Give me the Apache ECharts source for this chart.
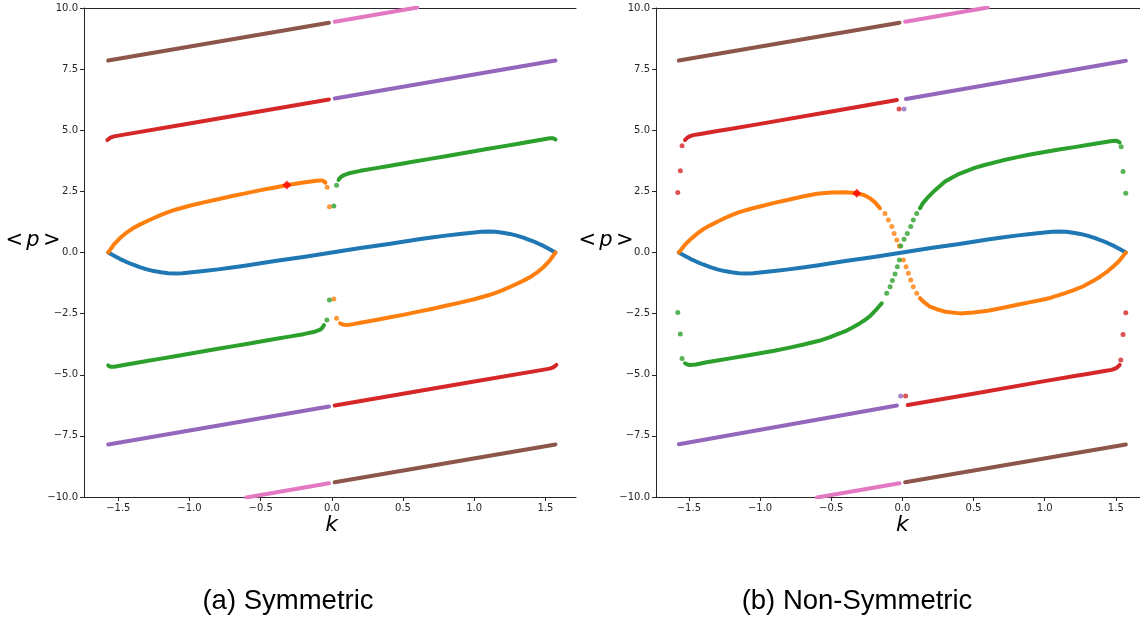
<!DOCTYPE html>
<html>
<head>
<meta charset="utf-8">
<script src="https://cdn.jsdelivr.net/npm/echarts@6/dist/echarts.min.js"></script>
<style>
  html, body { margin: 0; padding: 0; background: #ffffff; }
  #chart { width: 1140px; height: 621px; }
</style>
</head>
<body>
<div id="chart"></div>
<script>
// Tick positions and captions
const xTicks = [-1.5, -1.0, -0.5, 0.0, 0.5, 1.0, 1.5];
const yTicks = [-10, -7.5, -5, -2.5, 0, 2.5, 5, 7.5, 10];
const panelCaptions = ['(a) Symmetric', '(b) Non-Symmetric'];

// Lowest band, identical in both panels  [k, <p>]
const bandBlue = [
  [-1.571, 0.00], [-1.53, -0.13], [-1.49, -0.26], [-1.445, -0.38], [-1.40, -0.49], [-1.35, -0.60],
  [-1.30, -0.69], [-1.25, -0.76], [-1.20, -0.81], [-1.15, -0.85], [-1.10, -0.86], [-1.05, -0.85],
  [-1.00, -0.82], [-0.90, -0.76], [-0.80, -0.69], [-0.70, -0.61], [-0.60, -0.53], [-0.50, -0.44],
  [-0.40, -0.35], [-0.30, -0.27], [-0.20, -0.18], [-0.10, -0.09], [0.00, 0.00], [0.10, 0.09],
  [0.20, 0.18], [0.30, 0.27], [0.40, 0.35], [0.50, 0.44], [0.60, 0.53], [0.70, 0.61], [0.80, 0.69],
  [0.90, 0.76], [1.00, 0.82], [1.05, 0.85], [1.10, 0.86], [1.15, 0.85], [1.20, 0.81], [1.25, 0.76],
  [1.30, 0.69], [1.35, 0.60], [1.40, 0.49], [1.445, 0.38], [1.49, 0.26], [1.53, 0.13], [1.571, 0.00]
];

// Straight bands shared by both panels
const brownTop = [[-1.571, 7.85], [-0.02, 9.40]];
const pinkTop = [[0.02, 9.44], [0.60, 10.02]];
const pinkBottom = [[-0.60, -10.02], [-0.02, -9.44]];
const brownBottom = [[0.02, -9.40], [1.571, -7.85]];

// (a) symmetric case
const symOrangeUpper = [
  [-1.571, 0.00], [-1.53, 0.33], [-1.49, 0.58], [-1.445, 0.80], [-1.40, 0.98], [-1.35, 1.14],
  [-1.30, 1.28], [-1.25, 1.41], [-1.20, 1.54], [-1.15, 1.65], [-1.10, 1.75], [-1.05, 1.83],
  [-1.00, 1.91], [-0.90, 2.05], [-0.80, 2.18], [-0.70, 2.31], [-0.60, 2.43], [-0.50, 2.55],
  [-0.40, 2.66], [-0.30, 2.77], [-0.20, 2.86], [-0.12, 2.92], [-0.08, 2.95], [-0.06, 2.93], [-0.045, 2.86]
];
const symOrangeUpperDots = [[-0.033, 2.67], [-0.017, 1.87]];
const symGreenUpperDots = [[0.014, 1.90], [0.033, 2.75]];
const symGreenUpper = [
  [0.047, 2.97], [0.06, 3.07], [0.08, 3.15], [0.12, 3.24], [0.20, 3.34], [0.30, 3.44], [0.40, 3.54],
  [0.50, 3.64], [0.60, 3.74], [0.70, 3.84], [0.80, 3.94], [0.90, 4.04], [1.00, 4.14], [1.10, 4.24],
  [1.20, 4.34], [1.30, 4.44], [1.40, 4.54], [1.48, 4.62], [1.53, 4.67], [1.555, 4.67], [1.571, 4.62]
];
const symGreenLower = [
  [-1.571, -4.62], [-1.555, -4.67], [-1.53, -4.67], [-1.48, -4.62], [-1.40, -4.54], [-1.30, -4.44],
  [-1.20, -4.34], [-1.10, -4.24], [-1.00, -4.14], [-0.90, -4.04], [-0.80, -3.94], [-0.70, -3.84],
  [-0.60, -3.74], [-0.50, -3.64], [-0.40, -3.54], [-0.30, -3.44], [-0.20, -3.34], [-0.12, -3.24],
  [-0.08, -3.15], [-0.065, -3.07], [-0.055, -2.97]
];
const symGreenLowerDots = [[-0.035, -2.76], [-0.017, -1.94]];
const symOrangeLowerDots = [[0.014, -1.90], [0.033, -2.69]];
const symOrangeLower = [
  [0.058, -2.90], [0.08, -2.95], [0.105, -2.97], [0.15, -2.93], [0.20, -2.87], [0.30, -2.77],
  [0.40, -2.66], [0.50, -2.55], [0.60, -2.43], [0.70, -2.31], [0.80, -2.18], [0.90, -2.05],
  [1.00, -1.91], [1.05, -1.83], [1.10, -1.75], [1.15, -1.65], [1.20, -1.54], [1.25, -1.41],
  [1.30, -1.28], [1.35, -1.14], [1.40, -0.98], [1.445, -0.80], [1.49, -0.58], [1.53, -0.33], [1.571, 0.00]
];
const symRedTop = [[-1.577, 4.60], [-1.555, 4.70], [-1.53, 4.75], [-1.49, 4.79], [-1.00, 5.28], [-0.50, 5.78], [-0.02, 6.26]];
const symPurpleTop = [[0.02, 6.30], [1.571, 7.85]];
const symPurpleBottom = [[-1.571, -7.85], [-0.02, -6.30]];
const symRedBottom = [[0.02, -6.26], [0.50, -5.78], [1.00, -5.28], [1.49, -4.79], [1.53, -4.75], [1.555, -4.70], [1.577, -4.60]];
const symMarker = [[-0.316, 2.76]];

// (b) non-symmetric case
const asymOrangeLeft = [
  [-1.571, 0.00], [-1.53, 0.30], [-1.49, 0.53], [-1.445, 0.76], [-1.40, 0.95], [-1.35, 1.11],
  [-1.30, 1.26], [-1.25, 1.40], [-1.20, 1.53], [-1.15, 1.64], [-1.10, 1.73], [-1.05, 1.81],
  [-1.00, 1.88], [-0.90, 2.03], [-0.80, 2.16], [-0.70, 2.29], [-0.60, 2.40], [-0.50, 2.45],
  [-0.40, 2.46], [-0.32, 2.42], [-0.27, 2.35], [-0.227, 2.22], [-0.19, 2.04], [-0.157, 1.81]
];
const asymOrangeDots = [
  [-0.122, 1.60], [-0.098, 1.33], [-0.074, 1.06], [-0.058, 0.78], [-0.039, 0.51], [-0.021, 0.27],
  [0.007, -0.31], [0.026, -0.58], [0.042, -0.85], [0.059, -1.12], [0.077, -1.40], [0.101, -1.67]
];
const asymOrangeRight = [
  [0.124, -1.87], [0.148, -2.01], [0.19, -2.20], [0.242, -2.32], [0.30, -2.42], [0.405, -2.49],
  [0.50, -2.45], [0.60, -2.38], [0.70, -2.27], [0.80, -2.15], [0.90, -2.03], [1.00, -1.91],
  [1.038, -1.86], [1.10, -1.74], [1.15, -1.65], [1.20, -1.55], [1.272, -1.38], [1.30, -1.29],
  [1.35, -1.13], [1.389, -0.99], [1.445, -0.76], [1.49, -0.53], [1.507, -0.44], [1.53, -0.30], [1.571, 0.00]
];
const asymGreenLeftDots = [[-1.578, -2.45], [-1.56, -3.33], [-1.548, -4.34]];
const asymGreenLeft = [
  [-1.527, -4.53], [-1.51, -4.58], [-1.492, -4.60], [-1.45, -4.58], [-1.375, -4.49], [-1.30, -4.42],
  [-1.21, -4.33], [-1.10, -4.22], [-1.00, -4.12], [-0.90, -4.02], [-0.80, -3.90], [-0.70, -3.77],
  [-0.578, -3.60], [-0.508, -3.46], [-0.45, -3.33], [-0.40, -3.22], [-0.344, -3.05], [-0.30, -2.90],
  [-0.26, -2.75], [-0.227, -2.60], [-0.19, -2.38], [-0.16, -2.18], [-0.145, -2.08]
];
const asymGreenDots = [
  [-0.110, -1.67], [-0.086, -1.40], [-0.070, -1.15], [-0.051, -0.88], [-0.035, -0.58], [-0.021, -0.31],
  [-0.011, 0.27], [0.012, 0.54], [0.035, 0.78], [0.059, 1.06], [0.077, 1.33], [0.101, 1.60]
];
const asymGreenRight = [
  [0.124, 1.81], [0.145, 2.02], [0.171, 2.20], [0.20, 2.38], [0.23, 2.55], [0.26, 2.70], [0.30, 2.90],
  [0.344, 3.05], [0.40, 3.22], [0.45, 3.33], [0.508, 3.46], [0.578, 3.58], [0.70, 3.76], [0.80, 3.89],
  [0.90, 4.01], [1.00, 4.11], [1.10, 4.21], [1.21, 4.31], [1.30, 4.40], [1.375, 4.47], [1.45, 4.54],
  [1.49, 4.57], [1.51, 4.56], [1.527, 4.50]
];
const asymGreenRightDots = [[1.538, 4.33], [1.551, 3.31], [1.570, 2.42]];
const asymRedTopDots = [[-1.578, 2.45], [-1.56, 3.34], [-1.548, 4.37], [-0.023, 5.87]];
const asymRedTop = [
  [-1.527, 4.60], [-1.51, 4.70], [-1.49, 4.76], [-1.469, 4.80], [-1.42, 4.85], [-1.30, 4.97],
  [-1.21, 5.05], [-1.00, 5.26], [-0.508, 5.76], [-0.038, 6.24]
];
const asymPurpleTopDots = [[0.012, 5.87]];
const asymPurpleTop = [[0.025, 6.28], [1.571, 7.84]];
const asymPurpleBottom = [[-1.571, -7.84], [-0.038, -6.26]];
const asymPurpleBottomDots = [[-0.012, -5.87]];
const asymRedBottomDots = [[0.023, -5.87], [1.535, -4.40], [1.551, -3.35], [1.570, -2.46]];
const asymRedBottom = [
  [0.038, -6.24], [0.50, -5.78], [1.00, -5.26], [1.21, -5.05], [1.30, -4.97], [1.42, -4.85],
  [1.469, -4.80], [1.49, -4.76], [1.51, -4.70], [1.527, -4.60]
];
const asymMarker = [[-0.32, 2.42]];

const C = {
  blue: '#1f77b4', orange: '#ff7f0e', green: '#2ca02c', red: '#d62728',
  purple: '#9467bd', brown: '#8c564b', pink: '#e377c2', marker: '#ff0000'
};

const chart = echarts.init(document.getElementById('chart'), null, { renderer: 'canvas' });

const tickFmt = v => (v < 0 ? '\u2212' : '') + Math.abs(v).toFixed(1);
const axisColor = '#262626';

function bottomAxis(grid, min, max) {
  return {
    type: 'value', gridIndex: grid, position: 'bottom', min, max,
    axisLine: { show: true, onZero: false, lineStyle: { color: axisColor, width: 1 } },
    axisTick: { show: true, length: 4, customValues: xTicks, lineStyle: { color: axisColor } },
    axisLabel: { customValues: xTicks, formatter: tickFmt, fontFamily: 'DejaVu Sans', fontSize: 10, color: '#262626', margin: 6 },
    splitLine: { show: false }
  };
}
function topAxis(grid, min, max) {
  return {
    type: 'value', gridIndex: grid, position: 'top', min, max,
    axisLine: { show: true, onZero: false, lineStyle: { color: axisColor, width: 1 } },
    axisTick: { show: false }, axisLabel: { show: false }, splitLine: { show: false }
  };
}
function leftAxis(grid) {
  return {
    type: 'value', gridIndex: grid, min: -10, max: 10,
    axisLine: { show: true, onZero: false, lineStyle: { color: axisColor, width: 1 } },
    axisTick: { show: true, length: 4, customValues: yTicks, lineStyle: { color: axisColor } },
    axisLabel: { customValues: yTicks, formatter: tickFmt, fontFamily: 'DejaVu Sans', fontSize: 10, color: '#262626', margin: 6 },
    splitLine: { show: false }
  };
}

function band(data, color, xi, yi) {
  return {
    type: 'line', data, xAxisIndex: xi, yAxisIndex: yi, symbol: 'none', showSymbol: false,
    lineStyle: { color, width: 4, cap: 'round', join: 'round' }, clip: true, silent: true, animation: false
  };
}
function dots(data, color, xi, yi) {
  return {
    type: 'scatter', data, xAxisIndex: xi, yAxisIndex: yi, symbol: 'circle', symbolSize: 5,
    itemStyle: { color }, clip: true, silent: true, animation: false
  };
}
function marker(data, xi, yi) {
  return {
    type: 'scatter', data, xAxisIndex: xi, yAxisIndex: yi, symbol: 'diamond', symbolSize: [9, 9],
    itemStyle: { color: C.marker }, z: 5, silent: true, animation: false
  };
}

const seriesA = [
  band(bandBlue, C.blue, 0, 0),
  band(symOrangeUpper, C.orange, 0, 0), dots(symOrangeUpperDots, C.orange, 0, 0),
  band(symOrangeLower, C.orange, 0, 0), dots(symOrangeLowerDots, C.orange, 0, 0),
  band(symGreenUpper, C.green, 0, 0), dots(symGreenUpperDots, C.green, 0, 0),
  band(symGreenLower, C.green, 0, 0), dots(symGreenLowerDots, C.green, 0, 0),
  band(symRedTop, C.red, 0, 0), band(symRedBottom, C.red, 0, 0),
  band(symPurpleTop, C.purple, 0, 0), band(symPurpleBottom, C.purple, 0, 0),
  band(brownTop, C.brown, 0, 0), band(brownBottom, C.brown, 0, 0),
  band(pinkTop, C.pink, 0, 0), band(pinkBottom, C.pink, 0, 0),
  marker(symMarker, 0, 0)
];
const seriesB = [
  band(bandBlue, C.blue, 2, 1),
  band(asymOrangeLeft, C.orange, 2, 1), dots(asymOrangeDots, C.orange, 2, 1), band(asymOrangeRight, C.orange, 2, 1),
  dots(asymGreenLeftDots, C.green, 2, 1), band(asymGreenLeft, C.green, 2, 1), dots(asymGreenDots, C.green, 2, 1),
  band(asymGreenRight, C.green, 2, 1), dots(asymGreenRightDots, C.green, 2, 1),
  dots(asymRedTopDots, C.red, 2, 1), band(asymRedTop, C.red, 2, 1),
  dots(asymRedBottomDots, C.red, 2, 1), band(asymRedBottom, C.red, 2, 1),
  dots(asymPurpleTopDots, C.purple, 2, 1), band(asymPurpleTop, C.purple, 2, 1),
  band(asymPurpleBottom, C.purple, 2, 1), dots(asymPurpleBottomDots, C.purple, 2, 1),
  band(brownTop, C.brown, 2, 1), band(brownBottom, C.brown, 2, 1),
  band(pinkTop, C.pink, 2, 1), band(pinkBottom, C.pink, 2, 1),
  marker(asymMarker, 2, 1)
];

function pLabel(cx) {
  return {
    type: 'text', x: cx, y: 241, silent: true,
    style: {
      text: '{r|<} {i|p} {r|>}', align: 'center', verticalAlign: 'middle', fill: '#000',
      rich: {
        r: { fontFamily: 'DejaVu Sans', fontSize: 21, fill: '#000' },
        i: { fontFamily: 'DejaVu Sans', fontStyle: 'italic', fontSize: 21, fill: '#000' }
      }
    }
  };
}
function kLabel(cx) {
  return {
    type: 'text', x: cx, y: 525, silent: true,
    style: { text: 'k', align: 'center', verticalAlign: 'middle', fontFamily: 'DejaVu Sans', fontStyle: 'italic', fontSize: 22, fill: '#000' }
  };
}
function caption(cx, text) {
  return {
    type: 'text', x: cx, y: 601, silent: true,
    style: { text, align: 'center', verticalAlign: 'middle', fontFamily: 'Liberation Sans', fontSize: 27.5, fill: '#000' }
  };
}

chart.setOption({
  animation: false,
  backgroundColor: '#ffffff',
  grid: [
    { left: 84, top: 8, width: 492, height: 489, containLabel: false },
    { left: 656, top: 8, width: 484, height: 489, containLabel: false }
  ],
  xAxis: [bottomAxis(0, -1.741, 1.715), topAxis(0, -1.741, 1.715), bottomAxis(1, -1.731, 1.670), topAxis(1, -1.731, 1.670)],
  yAxis: [leftAxis(0), leftAxis(1)],
  series: seriesA.concat(seriesB),
  graphic: [
    pLabel(33), pLabel(606),
    kLabel(331.7), kLabel(902.3),
    caption(288, panelCaptions[0]), caption(857, panelCaptions[1])
  ]
});
</script>
</body>
</html>
